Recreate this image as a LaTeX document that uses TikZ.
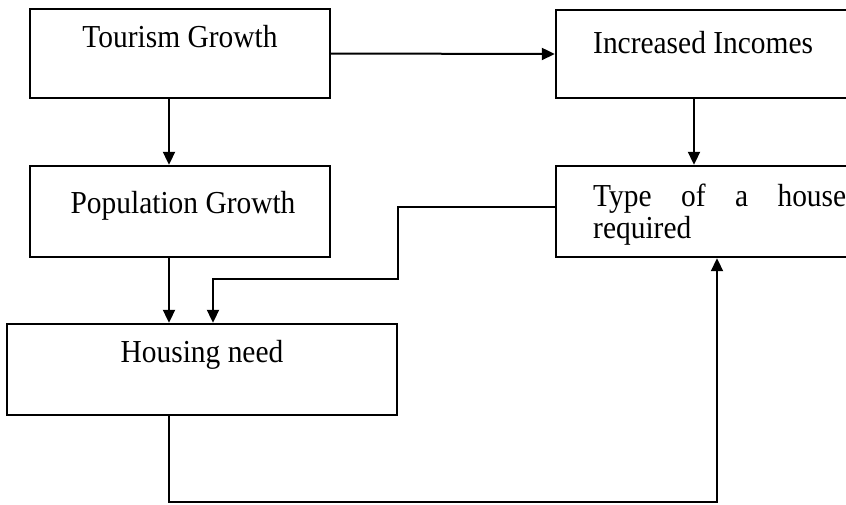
\documentclass[tikz,border=0pt]{standalone}
\usepackage{fontspec}
\setmainfont{Liberation Serif}[FakeStretch=0.92]
\usetikzlibrary{arrows.meta}
\begin{document}
\begin{tikzpicture}[x=1pt,y=-1pt,
  box/.style={draw=black,line width=2.4pt,rectangle,inner sep=0pt},
  lbl/.style={inner sep=0pt,font=\fontsize{32}{36}\selectfont},
  arr/.style={draw=black,line width=2pt,-{Triangle[length=13pt,width=12pt]}},
  conn/.style={draw=black,line width=2pt}]
\useasboundingbox (0,0) rectangle (846,504);
\clip (0,0) rectangle (846,504);
% boxes
\node[box,minimum width=300,minimum height=89] (tg) at (180,53.5) {};
\node[box,minimum width=300,minimum height=91] (pg) at (180,211.5) {};
\node[box,minimum width=390,minimum height=91] (hn) at (202,369.5) {};
\node[box,minimum width=300,minimum height=88] (ii) at (706,54) {};
\node[box,minimum width=300,minimum height=91] (th) at (706,211.5) {};
% texts
\node[lbl,anchor=base] (tgt) at (180,47) {Tourism Growth};
\node[lbl,anchor=base] (pgt) at (183,213) {Population Growth};
\node[lbl,anchor=base] (hnt) at (202,362) {Housing need};
\node[lbl,anchor=base west] (iit) at (593,53) {Increased Incomes};
\node[lbl,anchor=base west] (tht1) at (593,206) {\makebox[253pt][s]{Type of a house}};
\node[lbl,anchor=base west] (tht2) at (593,238) {required};
% helper coordinates
\coordinate (cx) at (169,0);
\coordinate (dx) at (694,0);
\coordinate (k0) at (0,207);
\coordinate (k1) at (398,279);
\coordinate (k2) at (213,279);
\coordinate (b1) at (169,502);
\coordinate (b2) at (717,502);
% connectors
\draw[arr] (tg.east) -- (ii.west);
\draw[arr] (tg.south -| cx) -- (pg.north -| cx);
\draw[arr] (ii.south -| dx) -- (th.north -| dx);
\draw[arr] (pg.south -| cx) -- (hn.north -| cx);
\draw[arr] (th.west |- k0) -| (k1) -- (k2) -- (hn.north -| k2);
\draw[arr] (hn.south -| b1) -- (b1) -- (b2) -- (th.south -| b2);
\end{tikzpicture}
\end{document}
